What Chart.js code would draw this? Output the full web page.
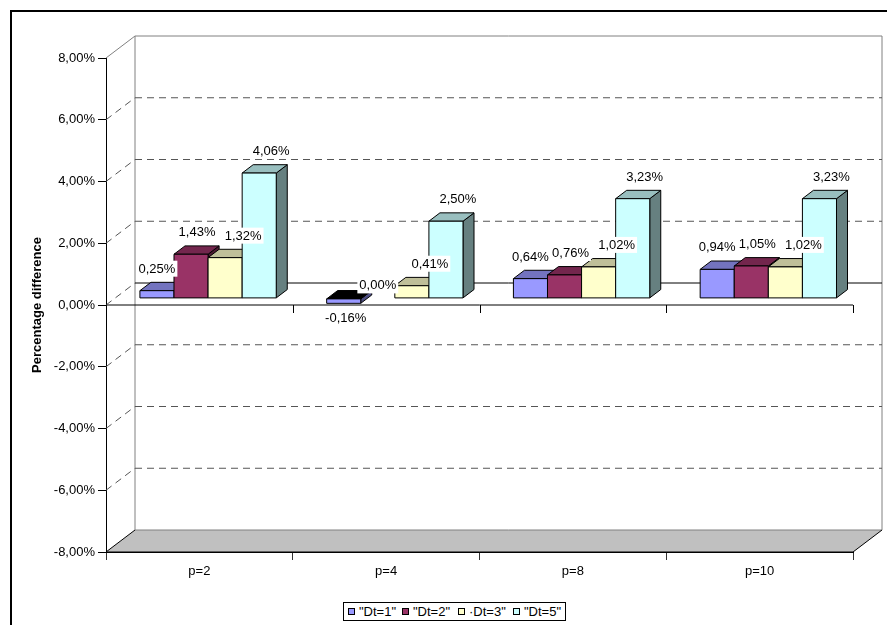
<!doctype html>
<html lang="en">
<head>
<meta charset="utf-8">
<title>Percentage difference</title>
<script src="https://cdn.jsdelivr.net/npm/chart.js"></script>
<style>
  body {
    margin: 0;
    width: 887px;
    height: 625px;
    overflow: hidden;
    position: relative;
    background: #fff;
    font-family: Arial, "Liberation Sans", sans-serif;
  }
  .frame {
    position: absolute;
    left: 10px;
    top: 10px;
    width: 900px;
    height: 700px;
    border-top: 2px solid #000;
    border-left: 2px solid #000;
  }
  #chart { position: absolute; left: 0; top: 0; }
  .legend {
    position: absolute;
    left: 343px;
    top: 602px;
    width: 221px;
    height: 17px;
    border: 1px solid #000;
    background: #fff;
    font-size: 13px;
    color: #000;
  }
  .legend .item { position: absolute; top: 1px; line-height: 15px; white-space: nowrap; }
  .legend i {
    display: inline-block;
    width: 5px;
    height: 5px;
    border: 1px solid #000;
    margin-right: 4px;
    vertical-align: 1px;
  }
</style>
</head>
<body>
<div class="frame"></div>
<canvas id="chart" width="887" height="625"></canvas>
<div class="legend" id="legend"></div>

<script>
  // categories and series (percent values)
  const categories = ['p=2', 'p=4', 'p=8', 'p=10'];
  const seriesNames = ['"Dt=1"', '"Dt=2"', '\u00b7Dt=3"', '"Dt=5"'];
  const dt1 = [0.25, -0.16, 0.64, 0.94];
  const dt2 = [1.43, 0.00, 0.76, 1.05];
  const dt3 = [1.32, 0.41, 1.02, 1.02];
  const dt5 = [4.06, 2.50, 3.23, 3.23];
  const yMin = -8, yMax = 8, yStep = 2;

  const frontColors = ['#9999FF', '#993366', '#FFFFCC', '#CCFFFF'];
  // horizontal nudge of each series' value labels so neighbours don't collide
  const labelNudge = [0, 6, 18, 12];
  const FONT = 'Arial, "Liberation Sans", sans-serif';

  // depth of the box and of the bars (pixels)
  const DX = 29, DY = -22;
  const BAR_SHIFT = 0.3, BAR_DEPTH = 0.38;

  function shade(hex, k) {
    const n = parseInt(hex.slice(1), 16);
    const r = Math.round(((n >> 16) & 255) * k);
    const g = Math.round(((n >> 8) & 255) * k);
    const b = Math.round((n & 255) * k);
    return `rgb(${r},${g},${b})`;
  }

  const fmt = (v) => v.toFixed(2).replace('.', ',') + '%';

  function poly(ctx, pts, fill, stroke) {
    ctx.beginPath();
    ctx.moveTo(pts[0][0], pts[0][1]);
    for (let i = 1; i < pts.length; i++) ctx.lineTo(pts[i][0], pts[i][1]);
    ctx.closePath();
    if (fill) { ctx.fillStyle = fill; ctx.fill(); }
    if (stroke) { ctx.strokeStyle = stroke; ctx.lineWidth = 1; ctx.stroke(); }
  }

  function line(ctx, x1, y1, x2, y2, color, dash) {
    ctx.beginPath();
    ctx.setLineDash(dash || []);
    ctx.strokeStyle = color;
    ctx.lineWidth = 1;
    ctx.moveTo(x1, y1);
    ctx.lineTo(x2, y2);
    ctx.stroke();
    ctx.setLineDash([]);
  }

  const box3d = {
    id: 'box3d',
    beforeDatasetsDraw(chart) {
      const { ctx, chartArea: a, scales } = chart;
      const y = scales.y;
      const L = a.left, R = a.right, T = a.top, B = a.bottom;
      ctx.save();
      // floor
      poly(ctx, [[L, B], [R, B], [R + DX, B + DY], [L + DX, B + DY]], '#C0C0C0', null);
      line(ctx, L + DX, B + DY, R + DX, B + DY, '#808080');
      line(ctx, L, B, L + DX, B + DY, '#000');
      line(ctx, R, B, R + DX, B + DY, '#000');
      line(ctx, L, B, R, B, '#000');
      // back wall and left wall outline
      line(ctx, L + DX, T + DY, L + DX, B + DY, '#808080');
      line(ctx, L + DX, T + DY, R + DX, T + DY, '#808080');
      line(ctx, R + DX, T + DY, R + DX, B + DY, '#808080');
      line(ctx, L, T, L + DX, T + DY, '#808080');
      // gridlines on the walls
      for (let v = yMin + yStep; v < yMax; v += yStep) {
        const py = y.getPixelForValue(v);
        line(ctx, L, py, L + DX, py + DY, '#555', [7, 5]);
        if (v === 0) line(ctx, L + DX, py + DY, R + DX, py + DY, '#000');
        else line(ctx, L + DX, py + DY, R + DX, py + DY, '#555', [7, 5]);
      }
      ctx.restore();
    },
    afterDatasetsDraw(chart) {
      const { ctx, chartArea: a, scales } = chart;
      const fx = DX * BAR_SHIFT, fy = DY * BAR_SHIFT;
      const bx = DX * BAR_DEPTH, by = DY * BAR_DEPTH;
      const labels = [];
      ctx.save();
      chart.data.datasets.forEach((ds, di) => {
        const meta = chart.getDatasetMeta(di);
        meta.data.forEach((el, i) => {
          const v = ds.data[i];
          const x0 = el.x - el.width / 2 + fx, x1 = el.x + el.width / 2 + fx;
          const top = Math.min(el.y, el.base) + fy;
          const bot = Math.max(el.y, el.base) + fy;
          const cx = el.x + fx;
          if (v > 0) labels.push([fmt(v), cx + labelNudge[di], top - 22]);
          else if (v === 0) labels.push([fmt(v), cx, top - 13]);
          else labels.push([fmt(v), cx + 2, bot + 15]);
          if (v === 0) return;
          const col = frontColors[di];
          poly(ctx, [[x1, top], [x1 + bx, top + by], [x1 + bx, bot + by], [x1, bot]], shade(col, 0.5), '#000');
          poly(ctx, [[x0, top], [x1, top], [x1 + bx, top + by], [x0 + bx, top + by]],
            v < 0 ? '#000' : shade(col, 0.75), '#000');
          poly(ctx, [[x0, top], [x1, top], [x1, bot], [x0, bot]], col, '#000');
        });
      });

      // front zero line with category ticks
      const y0 = scales.y.getPixelForValue(0);
      line(ctx, a.left, y0, a.right, y0, '#000');
      const step = (a.right - a.left) / categories.length;
      for (let k = 1; k <= categories.length; k++) {
        const px = Math.round(a.left + step * k) + 0.5;
        line(ctx, px, y0, px, y0 + 8, '#000');
      }

      // value labels
      ctx.font = '13px ' + FONT;
      ctx.textAlign = 'center';
      ctx.textBaseline = 'middle';
      labels.forEach(([t, x, yy]) => {
        const w = ctx.measureText(t).width;
        ctx.fillStyle = '#fff';
        ctx.fillRect(x - w / 2 - 2, yy - 8, w + 4, 16);
        ctx.fillStyle = '#000';
        ctx.fillText(t, x, yy + 0.5);
      });
      ctx.restore();
    },
    afterDraw(chart) {
      const { ctx } = chart;
      const y0 = chart.scales.y.getPixelForValue(0);
      ctx.save();
      ctx.translate(37, y0);
      ctx.rotate(-Math.PI / 2);
      ctx.font = 'bold 13px ' + FONT;
      ctx.fillStyle = '#000';
      ctx.textAlign = 'center';
      ctx.textBaseline = 'middle';
      ctx.fillText('Percentage difference', 0, 0);
      ctx.restore();
    }
  };

  const seriesData = [dt1, dt2, dt3, dt5];

  new Chart(document.getElementById('chart'), {
    type: 'bar',
    data: {
      labels: categories,
      datasets: seriesData.map((d, i) => ({
        label: seriesNames[i],
        data: d,
        backgroundColor: 'rgba(0,0,0,0)',
        borderWidth: 0,
        categoryPercentage: 0.73,
        barPercentage: 1
      }))
    },
    options: {
      responsive: false,
      animation: false,
      events: [],
      layout: { padding: { top: 58, right: 34, left: 0, bottom: 0 } },
      plugins: { legend: { display: false }, tooltip: { enabled: false } },
      scales: {
        x: {
          offset: true,
          grid: { offset: true, drawOnChartArea: false, tickLength: 8, color: '#333' },
          border: { color: '#000' },
          ticks: { padding: 4, color: '#000', font: { family: FONT, size: 13 } },
          afterFit(s) { s.height = 73; }
        },
        y: {
          min: yMin,
          max: yMax,
          grid: { drawOnChartArea: false, tickLength: 8, color: '#000' },
          border: { color: '#000' },
          ticks: {
            stepSize: yStep,
            padding: 3,
            color: '#000',
            font: { family: FONT, size: 13 },
            callback: (v) => fmt(v)
          },
          afterFit(s) { s.width = 106; }
        }
      }
    },
    plugins: [box3d]
  });

  // legend
  const legend = document.getElementById('legend');
  const itemLeft = [4, 58, 114, 169];
  seriesNames.forEach((name, i) => {
    const item = document.createElement('span');
    item.className = 'item';
    item.style.left = itemLeft[i] + 'px';
    const sw = document.createElement('i');
    sw.style.background = frontColors[i];
    item.appendChild(sw);
    item.appendChild(document.createTextNode(name));
    legend.appendChild(item);
  });
</script>
</body>
</html>
